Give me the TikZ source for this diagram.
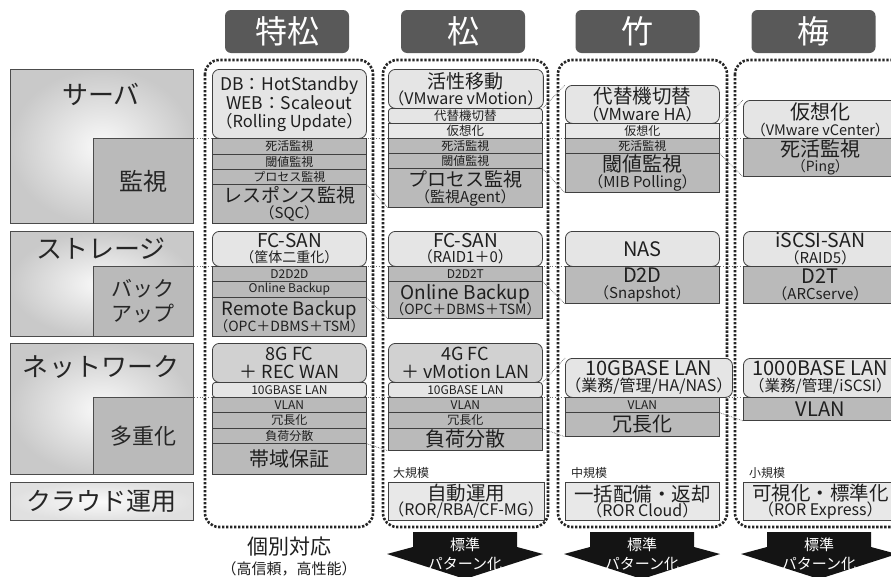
\documentclass[tikz,border=0pt]{standalone}
\usepackage{fontspec}
\setmainfont{Noto Sans CJK JP}
\newcommand\fs[1]{\fontsize{#1}{#1}\selectfont}
\tikzset{
 hdr/.style={fill=black!65, rounded corners=6pt, text=white, minimum width=124pt, minimum height=43pt, inner sep=0pt, font=\fs{32}},
 frm/.style={draw=black!85, line width=2.6pt, dash pattern=on 2.4pt off 1.6pt, rounded corners=14pt},
 catout/.style={draw=black!70, line width=0.9pt, anchor=north west, inner color=black!2, outer color=black!21, shade, inner sep=0pt},
 catin/.style={draw=black!70, line width=0.9pt, fill=black!27, anchor=north west, inner sep=0pt, text=black!85, align=center},
 cattxt/.style={font=\fs{26}, text=black!85, inner sep=0pt},
 bx/.style={draw=black!75, line width=0.8pt, inner sep=0pt, anchor=north west, minimum width=154pt, align=center, text=black!88},
 lt/.style={bx, fill=black!10, rounded corners=7pt},
 lts/.style={bx, fill=black!10, rounded corners=3pt},
 ltd/.style={bx, fill=black!18, rounded corners=7pt},
 lr/.style={bx, fill=black!9},
 md/.style={bx, fill=black!27},
 guide/.style={draw=black!55, line width=0.8pt, dotted},
 diag/.style={draw=black!60, line width=0.7pt, densely dotted},
 arr/.style={fill=black!92},
 arrtxt/.style={text=white, font=\fs{15}, inner sep=0pt},
 sizelbl/.style={font=\fs{12}, anchor=west, inner sep=0pt, text=black!85},
}
\begin{document}
\begin{tikzpicture}[x=1pt,y=-1pt]
\useasboundingbox (0,0) rectangle (891,576);
\fill[white] (0,0) rectangle (891,576);
\clip (0,0) rectangle (891,576);

% category boxes
\node[catout, minimum width=183pt, minimum height=154pt] (srv) at (10,69) {};
\node[cattxt] (srvl) at (101,94) {サーバ};
\node[catin, minimum width=100pt, minimum height=85pt, font=\fs{24}] (srvin) at (93,138) {監視};
\node[catout, minimum width=183pt, minimum height=105pt] (sto) at (10,231) {};
\node[cattxt] (stol) at (101,249) {ストレージ};
\node[catin, minimum width=100pt, minimum height=70pt, font=\fs{21}] (stoin) at (93,266) {バック\\[4pt]アップ};
\node[catout, minimum width=183pt, minimum height=131pt] (net) at (10,343) {};
\node[cattxt] (netl) at (101,367) {ネットワーク};
\node[catin, minimum width=100pt, minimum height=77pt, font=\fs{22}] (netin) at (93,397) {多重化};
\node[catout, minimum width=183pt, minimum height=38pt, font=\fs{25}, text=black!85, inner color=black!2, outer color=black!12] (cld) at (10,482) {クラウド運用};

% guide lines
\draw[guide] (srvin.north east) -- ++(720,0);
\draw[guide] (stoin.north east) -- ++(720,0);
\draw[guide] (netin.north east) -- ++(720,0);

% headers
\node[hdr] (h1) at (287,31.5) {特松};
\node[hdr] (h2) at (463,31.5) {松};
\node[hdr] (h3) at (637.5,31.5) {竹};
\node[hdr] (h4) at (813.5,31.5) {梅};

% frames
\draw[frm] (205,60) rectangle (373,527);
\draw[frm] (383,60) rectangle (548,527);
\draw[frm] (558,60) rectangle (727,527);
\draw[frm] (735,60) rectangle (915,527);

% ---- 特松
\node[lt, minimum height=69pt, font=\fs{17.5}] (t1) at (212,69) {DB：HotStandby\\WEB：Scaleout\\{\fs{16.5}（Rolling Update）}};
\node[md, minimum height=16pt, font=\fs{12}] (t2) at (212,138) {死活監視};
\node[md, minimum height=15pt, font=\fs{12}] (t3) at (212,154) {閾値監視};
\node[md, minimum height=15pt, font=\fs{12}] (t4) at (212,169) {プロセス監視};
\node[md, minimum height=39pt, font=\fs{19}] (t5) at (212,184) {レスポンス監視\\[-3pt]{\fs{15}（SQC）}};
\node[lt, minimum height=35pt, font=\fs{19}] (s1) at (212,231) {FC-SAN\\[-4pt]{\fs{14}（筐体二重化）}};
\node[md, minimum height=15pt, font=\fs{12}] (s2) at (212,266) {D2D2D};
\node[md, minimum height=16pt, font=\fs{12}] (s3) at (212,281) {Online Backup};
\node[md, minimum height=39pt, font=\fs{18.5}] (s4) at (212,297) {Remote Backup\\[-3pt]{\fs{14}（OPC＋DBMS＋TSM）}};
\node[ltd, minimum height=39pt, font=\fs{18}] (n1) at (212,343) {8G FC\\[0pt]＋ REC WAN};
\node[lts, minimum height=15pt, font=\fs{12}] (n2) at (212,382) {10GBASE LAN};
\node[md, minimum height=15pt, font=\fs{12}] (n3) at (212,397) {VLAN};
\node[md, minimum height=16pt, font=\fs{12}] (n4) at (212,412) {冗長化};
\node[md, minimum height=15pt, font=\fs{12}] (n5) at (212,428) {負荷分散};
\node[md, minimum height=31pt, font=\fs{20}] (n6) at (212,443) {帯域保証};

% ---- 松
\node[lt, minimum height=39pt, font=\fs{19}] (m1) at (388,69) {活性移動\\[-3pt]{\fs{16}（VMware vMotion）}};
\node[lts, minimum height=15pt, font=\fs{12.5}] (m2) at (388,108) {代替機切替};
\node[lr, minimum height=15pt, font=\fs{12.5}] (m3) at (388,123) {仮想化};
\node[md, minimum height=15pt, font=\fs{12}] (m4) at (388,138) {死活監視};
\node[md, minimum height=15pt, font=\fs{12}] (m5) at (388,153) {閾値監視};
\node[md, minimum height=39pt, font=\fs{19}] (m6) at (388,168) {プロセス監視\\[-3pt]{\fs{15}（監視Agent）}};
\node[lt, minimum height=35pt, font=\fs{19}] (ms1) at (388,231) {FC-SAN\\[-4pt]{\fs{15}（RAID1＋0）}};
\node[md, minimum height=15pt, font=\fs{12}] (ms2) at (388,266) {D2D2T};
\node[md, minimum height=37pt, font=\fs{19}] (ms3) at (388,281) {Online Backup\\[-4pt]{\fs{14}（OPC＋DBMS＋TSM）}};
\node[ltd, minimum height=39pt, font=\fs{18}] (mn1) at (388,343) {4G FC\\[0pt]＋ vMotion LAN};
\node[lts, minimum height=15pt, font=\fs{12}] (mn2) at (388,382) {10GBASE LAN};
\node[md, minimum height=15pt, font=\fs{12}] (mn3) at (388,397) {VLAN};
\node[md, minimum height=16pt, font=\fs{12}] (mn4) at (388,412) {冗長化};
\node[md, minimum height=22pt, font=\fs{20}] (mn5) at (388,428) {負荷分散};
\node[sizelbl] (ml) at (393,473) {大規模};
\node[lr, minimum height=38pt, font=\fs{19.5}] (mc) at (388,482) {自動運用\\[-4pt]{\fs{16}（ROR/RBA/CF-MG）}};

% ---- 竹
\node[lt, minimum height=38pt, font=\fs{19.5}] (k1) at (565,85) {代替機切替\\[-2pt]{\fs{16.5}（VMware HA）}};
\node[lr, minimum height=15pt, font=\fs{12}] (k2) at (565,123) {仮想化};
\node[md, minimum height=15pt, font=\fs{12}] (k3) at (565,138) {死活監視};
\node[md, minimum height=39pt, font=\fs{20}] (k4) at (565,153) {閾値監視\\[-4pt]{\fs{15}（MIB Polling）}};
\node[lt, minimum height=35pt, font=\fs{20}] (ks1) at (565,231) {NAS};
\node[md, minimum height=37pt, font=\fs{20}] (ks2) at (565,266) {D2D\\[-4pt]{\fs{15}（Snapshot）}};
\node[lt, minimum height=39pt, font=\fs{20}] (kn1) at (565,358) {10GBASE LAN\\[-4pt]{\fs{16}（業務/管理/HA/NAS）}};
\node[md, minimum height=15pt, font=\fs{12}] (kn2) at (565,397) {VLAN};
\node[md, minimum height=24pt, font=\fs{20}] (kn3) at (565,412) {冗長化};
\node[sizelbl] (kl) at (571,473) {中規模};
\node[lr, minimum height=38pt, font=\fs{19.5}] (kc) at (565,482) {一括配備・返却\\[-4pt]{\fs{16}（ROR Cloud）}};

% ---- 梅
\node[lt, minimum height=38pt, font=\fs{20}] (u1) at (743,100) {仮想化\\[-4pt]{\fs{14.5}（VMware vCenter）}};
\node[md, minimum height=38pt, font=\fs{20}] (u2) at (743,138) {死活監視\\[-5pt]{\fs{14}（Ping）}};
\node[lt, minimum height=35pt, font=\fs{19.5}] (us1) at (743,231) {iSCSI-SAN\\[-4pt]{\fs{15}（RAID5）}};
\node[md, minimum height=37pt, font=\fs{20}] (us2) at (743,266) {D2T\\[-4pt]{\fs{15}（ARCserve）}};
\node[lt, minimum height=39pt, font=\fs{20}] (un1) at (743,358) {1000BASE LAN\\[-4pt]{\fs{15.5}（業務/管理/iSCSI）}};
\node[md, minimum height=23pt, font=\fs{20}] (un2) at (743,397) {VLAN};
\node[sizelbl] (ul) at (749,473) {小規模};
\node[lr, minimum height=38pt, font=\fs{19.5}] (uc) at (743,482) {可視化・標準化\\[-4pt]{\fs{16}（ROR Express）}};

% diagonal zoom lines
\draw[diag] (t4.south east) -- (m6.south west);
\draw[diag] (m2.north east) -- (k1.north west);
\draw[diag] (m5.south east) -- (k4.south west);
\draw[diag] (k1.south east) -- (u1.north west);
\draw[diag] (k3.south east) -- (u2.south west);
\draw[diag] (s3.south east) -- (ms3.south west);
\draw[diag] (ms2.south east) -- (ks2.south west);
\draw[diag] (n5.south east) -- (mn5.south west);
\draw[diag] (mn2.north east) -- (kn1.north west);
\draw[diag] (mn4.south east) -- (kn3.south west);
\draw[diag] (kn2.south east) -- (un2.south west);

% bottom texts
\node[inner sep=0pt, font=\fs{21}, text=black!88] (ind1) at (289,547) {個別対応};
\node[inner sep=0pt, font=\fs{15}, text=black!88] (ind2) at (289,569) {（高信頼，高性能）};

% arrows
\foreach \c/\nm in {465/a2, 642/a3, 819/a4}{
  \fill[arr] (\c-52,532) -- (\c+52,532) -- (\c+52,547) -- (\c+78,554) -- (\c,579) -- (\c-78,554) -- (\c-52,547) -- cycle;
  \node[arrtxt] (\nm t1) at (\c,545) {標準};
  \node[arrtxt] (\nm t2) at (\c,564) {パターン化};
}
\end{tikzpicture}
\end{document}
